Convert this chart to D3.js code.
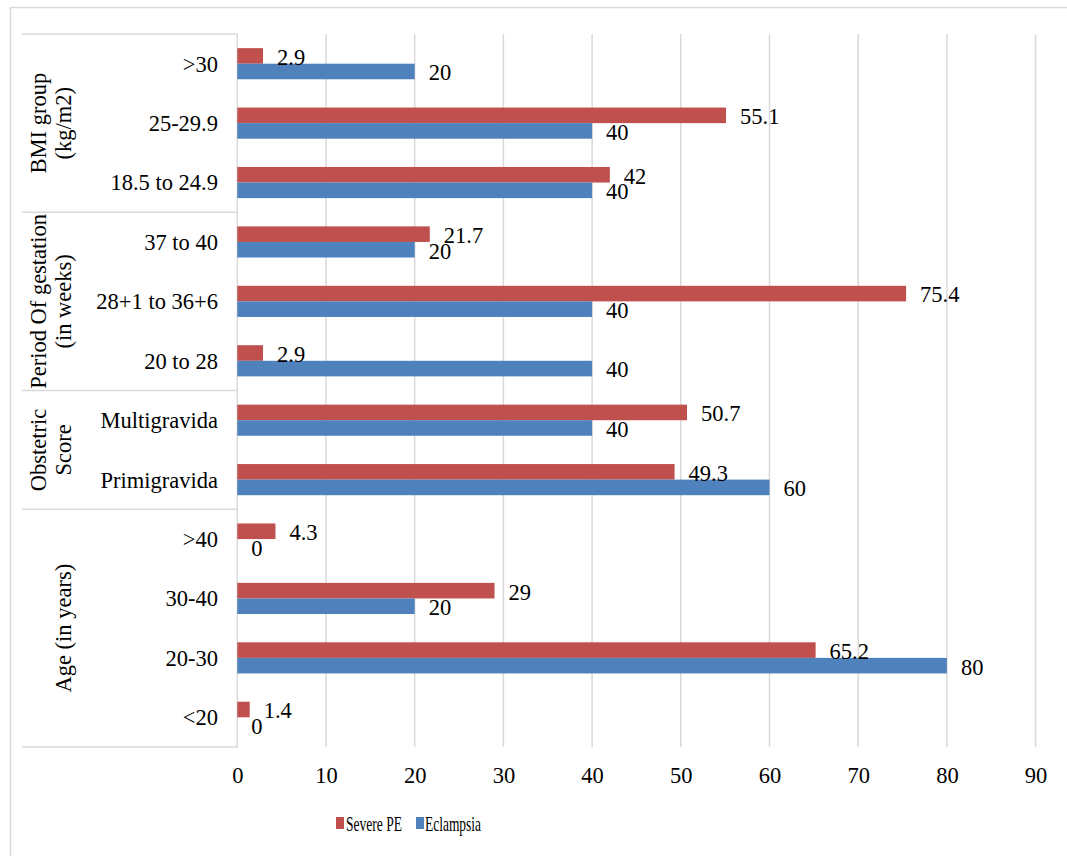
<!DOCTYPE html>
<html>
<head>
<meta charset="utf-8">
<script src="https://cdn.jsdelivr.net/npm/d3@7"></script>
<style>
  html, body { margin: 0; padding: 0; background: #fff; }
  svg { display: block; }
  svg text { font-family: "Liberation Serif", "DejaVu Serif", "Times New Roman", serif; fill: #000; }
</style>
</head>
<body>
<svg id="chart" width="1067" height="856" font-family="Liberation Serif, DejaVu Serif, serif"></svg>
<script>
// ---- data ----
const categories = ["<20", "20-30", "30-40", ">40", "Primigravida", "Multigravida",
  "20 to 28", "28+1 to 36+6", "37 to 40", "18.5 to 24.9", "25-29.9", ">30"];
const groups = ["Age", "Obstetric", "Period", "BMI"];
const groupOfCategory = ["Age", "Age", "Age", "Age", "Obstetric", "Obstetric",
  "Period", "Period", "Period", "BMI", "BMI", "BMI"];
const groupLabels = [["", "Age (in years)"], ["Obstetric", "Score"],
  ["Period Of gestation", "(in weeks)"], ["BMI group", "(kg/m2)"]];
const seriesNames = ["Severe PE", "Eclampsia"];
const severePE = [1.4, 65.2, 29, 4.3, 49.3, 50.7, 2.9, 75.4, 21.7, 42, 55.1, 2.9];
const eclampsia = [0, 80, 20, 0, 60, 40, 40, 40, 20, 40, 40, 20];
const xTicks = [0, 10, 20, 30, 40, 50, 60, 70, 80, 90];
const colors = ["#C0504D", "#4F81BD"];

// ---- layout ----
const svg = d3.select("#chart");
const plot = { left: 237.3, right: 1035.6, top: 34, bottom: 747 };
const tableLeft = 22;
const FONT = "Liberation Serif, DejaVu Serif, serif";

svg.append("rect").attr("x", 10.5).attr("y", 7.5).attr("width", 1100).attr("height", 900)
  .attr("fill", "#fff").attr("stroke", "#d9d9d9").attr("stroke-width", 1.5);

const x = d3.scaleLinear().domain([0, 90]).range([plot.left, plot.right]);
const yOrder = categories.slice().reverse();
const y = d3.scaleBand().domain(yOrder).range([plot.top, plot.bottom]).padding(0);
const bw = y.bandwidth();
const inner = d3.scaleBand().domain(seriesNames).range([bw * 0.238, bw * 0.762]).padding(0);

// gridlines
svg.append("g").selectAll("line").data(xTicks.filter(d => d > 0)).join("line")
  .attr("x1", d => x(d)).attr("x2", d => x(d))
  .attr("y1", plot.top).attr("y2", plot.bottom)
  .attr("stroke", "#d9d9d9").attr("stroke-width", 1.5);

// x axis tick labels
const xAxis = d3.axisBottom(x).tickValues(xTicks).tickSize(0).tickPadding(0).tickFormat(d3.format("d"));
const gx = svg.append("g").attr("transform", `translate(0, ${plot.bottom + 20})`).call(xAxis)
  .attr("font-family", FONT);
gx.select(".domain").remove();
gx.selectAll("text").attr("font-size", "22.5px").attr("font-family", FONT)
  .attr("fill", "#000").attr("dy", "0.71em");

// category table lines
const table = svg.append("g").attr("stroke", "#d9d9d9").attr("stroke-width", 1.5);
table.append("line").attr("x1", plot.left).attr("x2", plot.left)
  .attr("y1", plot.top).attr("y2", plot.bottom + 1);
const boundaries = [];
groups.forEach(g => {
  const cats = categories.filter((c, i) => groupOfCategory[i] === g);
  const ys = cats.map(c => y(c));
  boundaries.push({ g, top: d3.min(ys), bottom: d3.max(ys) + bw });
});
const hLines = [plot.top].concat(boundaries.map(b => b.bottom));
table.selectAll("line.h").data(hLines).join("line").attr("class", "h")
  .attr("x1", tableLeft).attr("x2", plot.left)
  .attr("y1", d => d === plot.bottom ? d + 1 : d).attr("y2", d => d === plot.bottom ? d + 1 : d);

// category labels
svg.append("g").selectAll("text").data(categories).join("text")
  .attr("x", 218).attr("y", d => y(d) + bw / 2)
  .attr("dy", "0.35em").attr("text-anchor", "end").attr("font-size", "22.5px")
  .text(d => d);

// group labels (rotated)
const gl = svg.append("g");
boundaries.forEach((b, i) => {
  const cy = (b.top + b.bottom) / 2;
  const lines = groupLabels[i];
  const xs = [38, 63];
  lines.forEach((t, j) => {
    if (!t) return;
    gl.append("text")
      .attr("transform", `translate(${xs[j]}, ${cy}) rotate(-90)`)
      .attr("text-anchor", "middle").attr("dy", "0.35em")
      .attr("font-size", "22.5px").text(t);
  });
});

// bars
const seriesData = [severePE, eclampsia];
seriesData.forEach((vals, si) => {
  svg.append("g").selectAll("rect").data(categories).join("rect")
    .attr("x", x(0))
    .attr("y", (c) => y(c) + inner(seriesNames[si]))
    .attr("width", (c, i) => x(vals[i]) - x(0))
    .attr("height", inner.bandwidth())
    .attr("fill", colors[si]);
});
// value labels
seriesData.forEach((vals, si) => {
  svg.append("g").selectAll("text").data(categories).join("text")
    .attr("x", (c, i) => x(vals[i]) + 14)
    .attr("y", (c) => y(c) + inner(seriesNames[si]) + inner.bandwidth() / 2 + 1)
    .attr("dy", "0.35em").attr("font-size", "22.5px")
    .text((c, i) => vals[i]);
});

// legend
const legend = svg.append("g");
const legendItems = [{ sx: 336, tx: 346 }, { sx: 416, tx: 425 }];
seriesNames.forEach((s, i) => {
  legend.append("rect").attr("x", legendItems[i].sx).attr("y", 817)
    .attr("width", 8).attr("height", 12).attr("fill", colors[i]);
  legend.append("text").attr("x", legendItems[i].tx).attr("y", 831)
    .attr("font-size", "21px").attr("textLength", 56).attr("lengthAdjust", "spacingAndGlyphs")
    .text(s);
});
</script>
</body>
</html>
